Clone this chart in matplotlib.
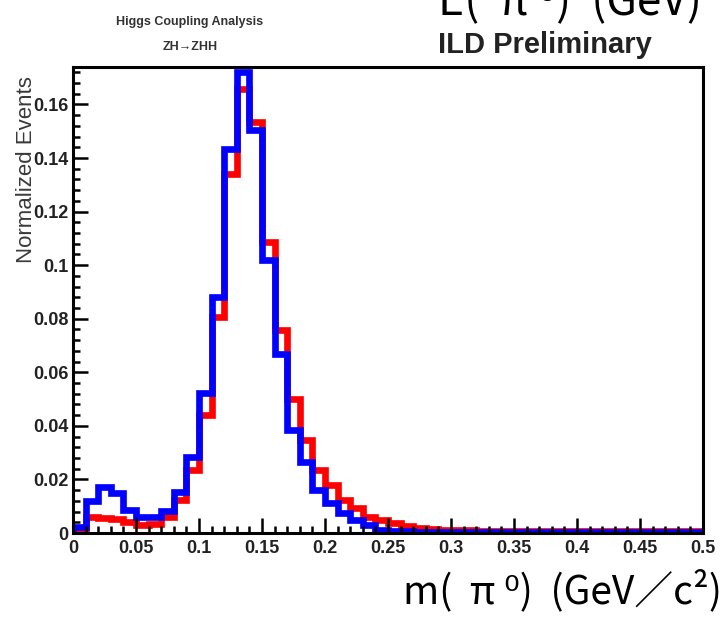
import matplotlib
matplotlib.use('Agg')
import matplotlib.pyplot as plt
from matplotlib.ticker import MultipleLocator
import numpy as np

# 50 bins of 0.01 GeV/c^2 from 0 to 0.5
bin_edges = np.linspace(0.0, 0.5, 51)

red_counts = [0.0012, 0.0060, 0.0057, 0.0053, 0.0042, 0.0030, 0.0035, 0.0060, 0.0123, 0.0235,
              0.0440, 0.0805, 0.1340, 0.1657, 0.1535, 0.1086, 0.0757, 0.0500, 0.0347, 0.0235,
              0.0179, 0.0123, 0.0092, 0.0060, 0.0049, 0.0036, 0.0026, 0.0020, 0.0016, 0.0013,
              0.0011, 0.0010, 0.0009, 0.0009, 0.0008, 0.0008, 0.0008, 0.0007, 0.0007, 0.0007,
              0.0007, 0.0006, 0.0006, 0.0006, 0.0006, 0.0006, 0.0006, 0.0006, 0.0006, 0.0006]

blue_counts = [0.0021, 0.0120, 0.0172, 0.0150, 0.0085, 0.0058, 0.0058, 0.0084, 0.0154, 0.0283,
               0.0521, 0.0882, 0.1435, 0.1722, 0.1504, 0.1019, 0.0670, 0.0384, 0.0266, 0.0160,
               0.0111, 0.0073, 0.0049, 0.0030, 0.0012, 0.0008, 0.0006, 0.0004, 0.0004, 0.0003,
               0.0003, 0.0003, 0.0002, 0.0002, 0.0002, 0.0002, 0.0002, 0.0002, 0.0002, 0.0002,
               0.0002, 0.0002, 0.0002, 0.0002, 0.0002, 0.0002, 0.0002, 0.0002, 0.0002, 0.0002]

x_ticks = [0, 0.05, 0.1, 0.15, 0.2, 0.25, 0.3, 0.35, 0.4, 0.45, 0.5]
x_tick_labels = ['0', '0.05', '0.1', '0.15', '0.2', '0.25', '0.3', '0.35', '0.4', '0.45', '0.5']
y_ticks = [0, 0.02, 0.04, 0.06, 0.08, 0.1, 0.12, 0.14, 0.16]
y_tick_labels = ['0', '0.02', '0.04', '0.06', '0.08', '0.1', '0.12', '0.14', '0.16']

fig = plt.figure(figsize=(7.26, 6.19), dpi=100)
ax = fig.add_axes([0.1006, 0.1389, 0.8677, 0.7529])

ax.stairs(red_counts, bin_edges, color='#ff0000', linewidth=4.8)
ax.stairs(blue_counts, bin_edges, color='#0000ff', linewidth=4.8)

ax.set_xlim(0, 0.5)
ax.set_ylim(0, 0.174)

ax.set_xticks(x_ticks)
ax.set_xticklabels(x_tick_labels)
ax.set_yticks(y_ticks)
ax.set_yticklabels(y_tick_labels)
ax.xaxis.set_minor_locator(MultipleLocator(0.01))
ax.yaxis.set_minor_locator(MultipleLocator(0.004))

ax.tick_params(which='both', direction='in', top=False, right=False, width=1.8, color='black')
ax.tick_params(which='major', length=11)
ax.tick_params(which='minor', length=5)
ax.tick_params(axis='x', pad=5)
ax.tick_params(axis='y', pad=3)
for lab in ax.get_xticklabels() + ax.get_yticklabels():
    lab.set_family('Liberation Sans')
    lab.set_fontweight('bold')
    lab.set_fontsize(13)
    lab.set_color('#222222')

for s in ax.spines.values():
    s.set_linewidth(2.2)

# header texts
fig.text(0.2617, 0.9645, 'Higgs Coupling Analysis', ha='center', va='center',
         family='Liberation Sans', fontweight='bold', fontsize=9, color='#333333')
fig.text(0.2617, 0.924, 'ZH\u2192ZHH', ha='center', va='center',
         family=['Liberation Sans', 'DejaVu Sans'], fontweight='bold', fontsize=9, color='#333333')
fig.text(0.7507, 0.927, 'ILD Preliminary', ha='center', va='center',
         family='Liberation Sans', fontweight='bold', fontsize=21, color='#222222')

# axis titles (the upper one belongs to the panel above and is cut by the edge)
cjk = ['Noto Sans CJK JP', 'DejaVu Sans']
fig.text(0.967, 1 - 15 / 619, 'E(  \u03c0 \u2070)  (GeV)', ha='right', va='baseline',
         family=cjk, fontsize=32, color='black')
fig.text(0.994, 0.026, 'm(  \u03c0 \u2070)  (GeV\uff0fc\u00b2)', ha='right', va='baseline',
         family=cjk, fontsize=28, color='black')
fig.text(0.036, 0.7254, 'Normalized Events', ha='center', va='center', rotation=90,
         family='Liberation Sans', fontsize=16, color='#3a3a3a')

fig.savefig('out.png', dpi=100)
